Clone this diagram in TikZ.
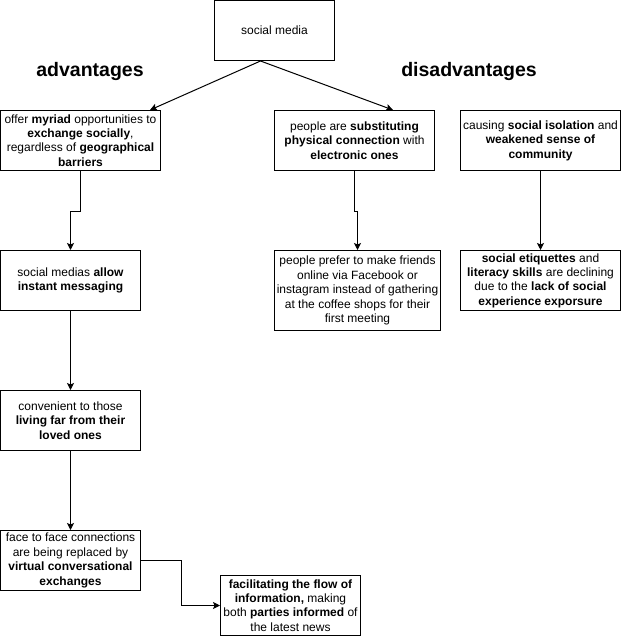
\documentclass[tikz,border=0pt]{standalone}
\usepackage{fontspec}
\setmainfont{Liberation Sans}
\usetikzlibrary{arrows.meta}
\tikzset{
  box/.style={draw=black, line width=1bp, fill=white, inner sep=0pt, align=center,
    font=\fontsize{12bp}{14.4bp}\selectfont},
  arr/.style={draw=black, line width=1bp, -{Stealth[length=7bp,width=7bp,inset=1.5bp]}},
  heading/.style={inner sep=0pt, font=\fontsize{19.5bp}{23bp}\selectfont\bfseries}
}
\begin{document}
\begin{tikzpicture}[x=1bp,y=-1bp]
\useasboundingbox (0,0) rectangle (621,636);
\node[box, minimum width=120bp, minimum height=60bp] (sm) at (274.5,30.5) {social media};
\node[heading] (adv) at (90,72) {advantages};
\node[heading] (dis) at (469,72) {disadvantages};

\node[box, minimum width=160bp, minimum height=60bp] (a1) at (80.5,140.5)
  {offer \textbf{myriad} opportunities to\\ \textbf{exchange socially},\\ regardless of \textbf{geographical}\\ \textbf{barriers}};
\node[box, minimum width=140bp, minimum height=60bp] (a2) at (70.5,280.5)
  {social medias \textbf{allow}\\ \textbf{instant messaging}};
\node[box, minimum width=140bp, minimum height=60bp] (a3) at (70.5,420.5)
  {convenient to those\\ \textbf{living far from their}\\ \textbf{loved ones}};
\node[box, minimum width=140bp, minimum height=60bp] (a4) at (70.5,560.5)
  {face to face connections\\ are being replaced by\\ \textbf{virtual conversational}\\ \textbf{exchanges}};
\node[box, minimum width=140bp, minimum height=60bp] (a5) at (290.5,605.5)
  {\textbf{facilitating the flow of}\\ \textbf{information,} making\\ both \textbf{parties informed} of\\ the latest news};

\node[box, minimum width=160bp, minimum height=60bp] (d1) at (354.5,140.5)
  {people are \textbf{substituting}\\ \textbf{physical connection} with\\ \textbf{electronic ones}};
\node[box, minimum width=166bp, minimum height=80bp] (d2) at (357.5,290.5)
  {people prefer to make friends\\ online via Facebook or\\ instagram instead of gathering\\ at the coffee shops for their\\ first meeting};
\node[box, minimum width=160bp, minimum height=60bp] (d3) at (540.5,140.5)
  {causing \textbf{social isolation} and\\ \textbf{weakened sense of}\\ \textbf{community}};
\node[box, minimum width=160bp, minimum height=60bp] (d4) at (540.5,280.5)
  {\textbf{social etiquettes} and\\ \textbf{literacy skills} are declining\\ due to the \textbf{lack of social}\\ \textbf{experience exporsure}};

\draw[arr] ([xshift=-14bp]sm.south) -- ([xshift=69.5bp]a1.north);
\draw[arr] ([xshift=-14bp]sm.south) -- ([xshift=38.5bp]d1.north);
\draw[arr] (a1.south) -- ++(0,40) -| (a2.north);
\draw[arr] (a2.south) -- (a3.north);
\draw[arr] (a3.south) -- (a4.north);
\draw[arr] (a4.east) -- ++(40.5,0) |- (a5.west);
\draw[arr] (d1.south) -- ++(0,40) -| (d2.north);
\draw[arr] (d3.south) -- (d4.north);
\end{tikzpicture}
\end{document}
